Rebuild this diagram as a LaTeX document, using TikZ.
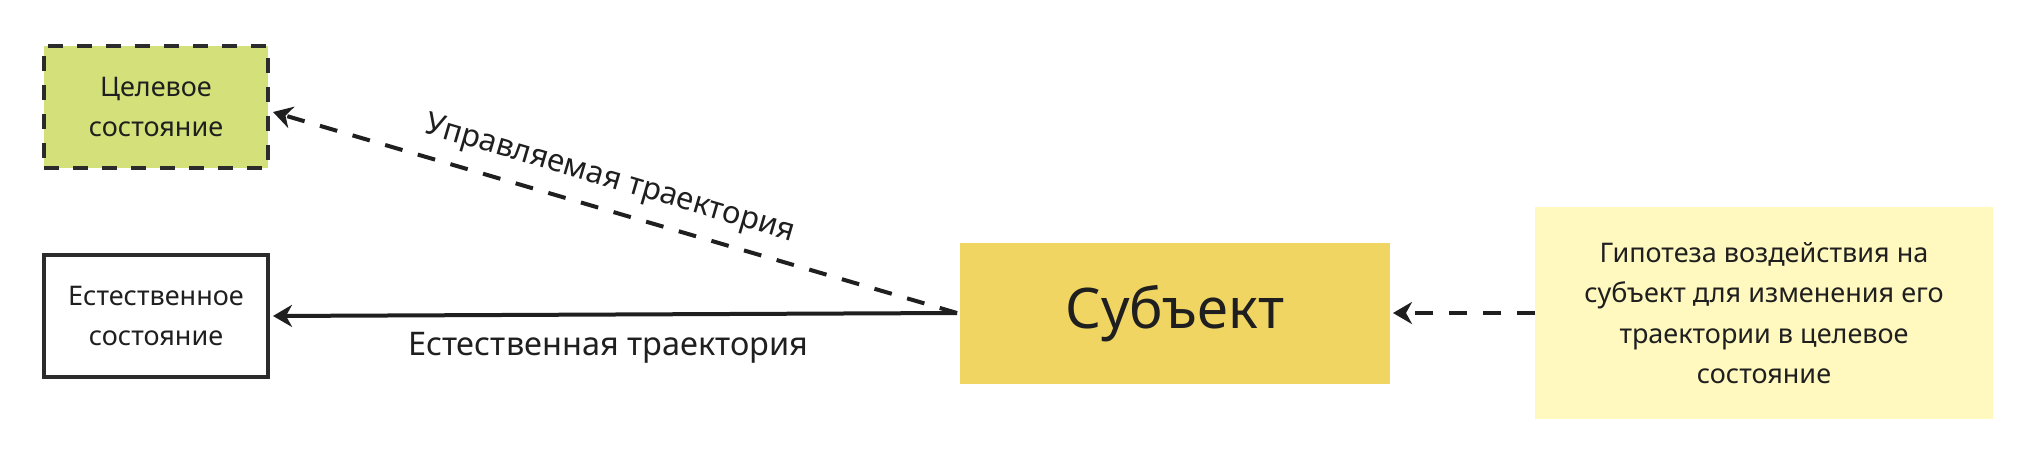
\documentclass[tikz,border=0pt]{standalone}
\usepackage{fontspec}
\setmainfont{Noto Sans}
\usetikzlibrary{arrows.meta}
\definecolor{ink}{HTML}{1F1F1F}
\definecolor{edge}{HTML}{2B2B2B}
\definecolor{goalfill}{HTML}{D4E07A}
\definecolor{subjfill}{HTML}{F0D562}
\definecolor{hypfill}{HTML}{FFF8BF}
\begin{document}
\begin{tikzpicture}[x=1pt,y=-1pt,
  box/.style={draw=edge, line width=3.5pt, minimum width=224pt, minimum height=122pt,
    align=center, text=ink, inner sep=0pt, font=\fontsize{27}{40}\selectfont},
  plainbox/.style={align=center, text=ink, inner sep=0pt},
  lbl/.style={text=ink, font=\fontsize{32.5}{38}\selectfont, inner sep=0pt},
  arr/.style={draw=ink, line width=4pt, -{Stealth[length=19pt,width=22pt,inset=6pt]}},
  dasharr/.style={arr, dash pattern=on 18pt off 16pt}]
\useasboundingbox[fill=white] (0,0) rectangle (2030,452);
\node[box, fill=goalfill, dash pattern=on 15pt off 14pt] (goal) at (156,107) {Целевое\\состояние};
\node[box, fill=white] (nat) at (156,316) {Естественное\\состояние};
\node[plainbox, fill=subjfill, minimum width=430pt, minimum height=141pt,
  font=\fontsize{56}{64}\selectfont] (subj) at (1175,313.5) {Субъект};
\node[plainbox, fill=hypfill, minimum width=458pt, minimum height=212pt,
  font=\fontsize{27}{40.5}\selectfont] (hyp) at (1764,313) {Гипотеза воздействия на\\субъект для изменения его\\траектории в целевое\\состояние};
\coordinate (s) at (957,313);
\coordinate (ge) at (273,112);
\coordinate (ne) at (273,316);
\coordinate (he) at (1535,313);
\coordinate (se) at (1393,313);
\draw[arr] (s) -- node[lbl, pos=0.51, below=16pt] (natlbl) {Естественная траектория} (ne);
\draw[dasharr] (s) -- node[lbl, font=\fontsize{31}{36}\selectfont, pos=0.52, sloped, above=13pt] (ctllbl) {Управляемая траектория} (ge);
\draw[dasharr] (he) -- (se);
\end{tikzpicture}
\end{document}
